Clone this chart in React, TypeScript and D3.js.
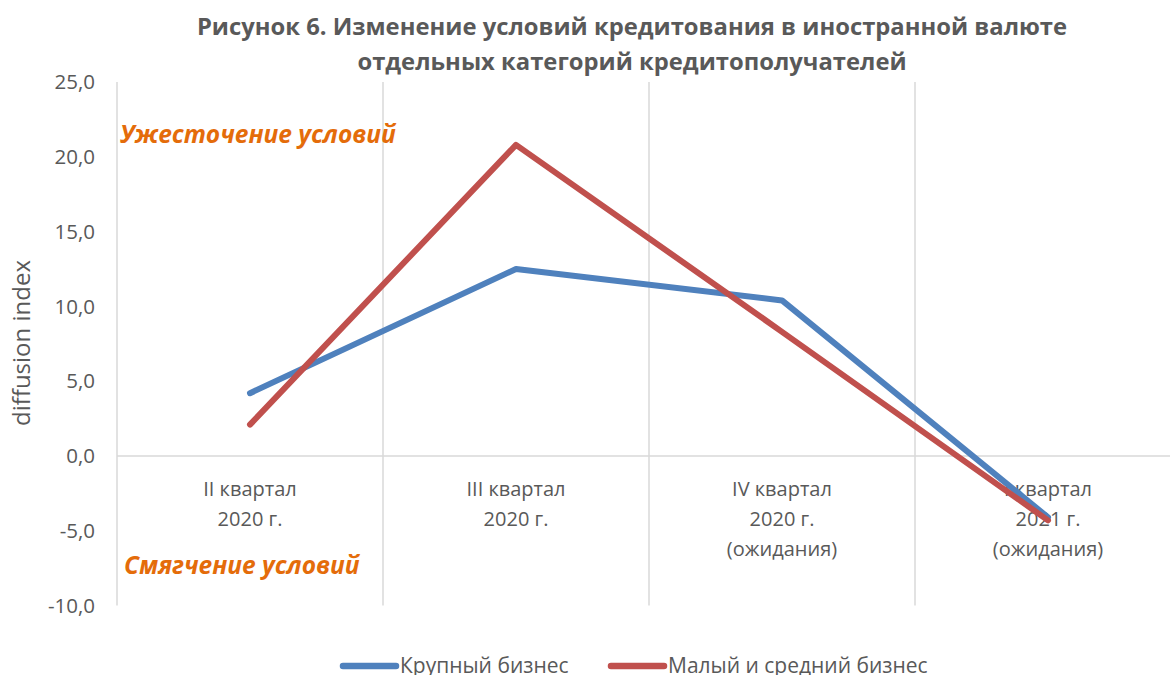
import React from "react";
import * as d3 from "d3";

const categories = [
  ["II квартал", "2020 г."],
  ["III квартал", "2020 г."],
  ["IV квартал", "2020 г.", "(ожидания)"],
  ["I квартал", "2021 г.", "(ожидания)"],
];
const largeBusiness = [4.2, 12.5, 10.4, -4.1];
const smeBusiness = [2.1, 20.8, 8.3, -4.3];
const yTicks = [-10, -5, 0, 5, 10, 15, 20, 25];
const seriesNames = ["Крупный бизнес", "Малый и средний бизнес"];
const seriesColors = ["#4F81BD", "#C0504D"];

const W = 1170;
const H = 675;
const left = 117;
const right = 1181;
const top = 82;
const bottom = 605.6;
const font = "'Open Sans', sans-serif";
const gray = "#595959";

export default function App() {
  const idx = categories.map((_, i) => i);
  const x = d3.scaleBand<number>().domain(idx).range([left, right]);
  const y = d3.scaleLinear().domain([-10, 25]).range([bottom, top]);
  const line = d3
    .line<number>()
    .x((_, i) => (x(i) as number) + x.bandwidth() / 2)
    .y((d) => y(d));
  const series = [largeBusiness, smeBusiness];

  return (
    <svg width={W} height={H} style={{ position: "absolute", left: 0, top: 0 }}>
      <rect width={W} height={H} fill="#fff" />
      <text x={632} y={35} textAnchor="middle" fontFamily={font} fontWeight="bold" fontSize={23.8} fill={gray}>
        Рисунок 6. Изменение условий кредитования в иностранной валюте
      </text>
      <text x={632} y={70} textAnchor="middle" fontFamily={font} fontWeight="bold" fontSize={23.8} fill={gray}>
        отдельных категорий кредитополучателей
      </text>
      {idx.map((i) => (
        <line key={i} x1={x(i) as number} x2={x(i) as number} y1={top} y2={bottom} stroke="#D9D9D9" strokeWidth={1.5} />
      ))}
      <line x1={left} x2={right} y1={y(0)} y2={y(0)} stroke="#D9D9D9" strokeWidth={1.5} />
      {yTicks.map((t) => (
        <text key={t} x={95} y={y(t)} dy="0.35em" textAnchor="end" fontFamily={font} fontSize={20.5} fill={gray}>
          {t.toFixed(1).replace(".", ",")}
        </text>
      ))}
      <text transform={`translate(30,${343}) rotate(-90)`} textAnchor="middle" fontFamily={font} fontSize={24} fill={gray}>
        diffusion index
      </text>
      {categories.map((lines, i) => (
        <text key={i} textAnchor="middle" fontFamily={font} fontSize={20} fill={gray}>
          {lines.map((l, j) => (
            <tspan key={j} x={(x(i) as number) + x.bandwidth() / 2} y={496 + j * 30}>
              {l}
            </tspan>
          ))}
        </text>
      ))}
      {series.map((s, k) => (
        <path key={k} d={line(s) || ""} fill="none" stroke={seriesColors[k]} strokeWidth={6} strokeLinecap="round" strokeLinejoin="round" />
      ))}
      <text x={120} y={143} fontFamily={font} fontWeight="bold" fontStyle="italic" fontSize={24.5} fill="#E46C0A">
        Ужесточение условий
      </text>
      <text x={124} y={574} fontFamily={font} fontWeight="bold" fontStyle="italic" fontSize={24.5} fill="#E46C0A">
        Смягчение условий
      </text>
      {seriesNames.map((n, k) => {
        const lx = k === 0 ? 343 : 611;
        return (
          <g key={n}>
            <line x1={lx} x2={lx + 53} y1={666} y2={666} stroke={seriesColors[k]} strokeWidth={6.5} strokeLinecap="round" />
            <text x={lx + 57} y={673} fontFamily={font} fontSize={21} fill={gray}>
              {n}
            </text>
          </g>
        );
      })}
    </svg>
  );
}
